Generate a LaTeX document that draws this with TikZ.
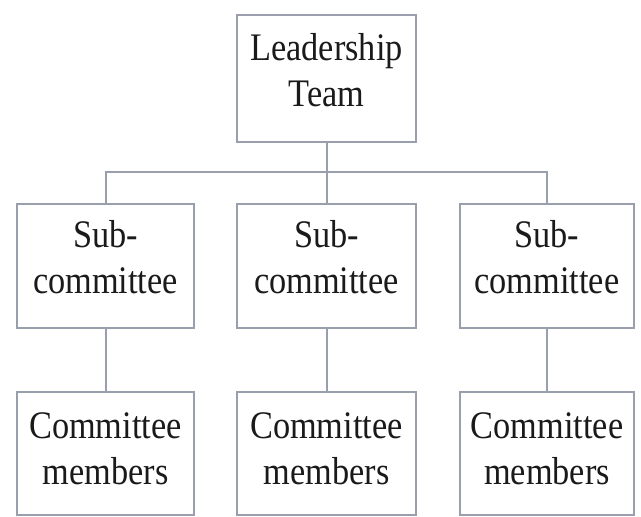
\documentclass[tikz,border=0pt]{standalone}
\usepackage{fontspec}
\setmainfont{Liberation Serif}[FakeStretch=0.88]
\definecolor{linec}{HTML}{9A9FAE}
\definecolor{txtc}{HTML}{1A1A1A}
\begin{document}
\begin{tikzpicture}[x=1pt,y=-1pt,
  box/.style={draw=linec, line width=2pt, inner sep=0pt, fill=white},
  lbl/.style={align=center, font=\fontsize{39}{46}\selectfont, text=txtc, inner sep=0pt},
  conn/.style={draw=linec, line width=2pt}]
\useasboundingbox (0,0) rectangle (641,517);
\fill[white] (0,0) rectangle (641,517);
% boxes
\node[box, minimum width=179pt, minimum height=127pt] (lead) at (326.5,78.5) {};
\node[box, minimum width=177pt, minimum height=124pt] (s1) at (105.5,266) {};
\node[box, minimum width=179pt, minimum height=124pt] (s2) at (326.5,266) {};
\node[box, minimum width=174pt, minimum height=124pt] (s3) at (547,266) {};
\node[box, minimum width=177pt, minimum height=123pt] (c1) at (105.5,453.5) {};
\node[box, minimum width=179pt, minimum height=123pt] (c2) at (326.5,453.5) {};
\node[box, minimum width=174pt, minimum height=123pt] (c3) at (547,453.5) {};
% labels
\node[lbl] (tlead) at ([yshift=8pt]lead.center) {Leadership\\Team};
\node[lbl] (ts1) at ([yshift=9pt]s1.center) {Sub-\\committee};
\node[lbl] (ts2) at ([yshift=9pt]s2.center) {Sub-\\committee};
\node[lbl] (ts3) at ([yshift=9pt]s3.center) {Sub-\\committee};
\node[lbl] (tc1) at ([yshift=5pt]c1.center) {Committee\\members};
\node[lbl] (tc2) at ([yshift=5pt]c2.center) {Committee\\members};
\node[lbl] (tc3) at ([yshift=5pt]c3.center) {Committee\\members};
% connectors
\coordinate (bus) at (0,172);
\draw[conn] (lead.south) -- (s2.north);
\draw[conn] (s1.north) -- (s1.north |- bus) -- (s3.north |- bus) -- (s3.north);
\draw[conn] (s1.south) -- (c1.north);
\draw[conn] (s2.south) -- (c2.north);
\draw[conn] (s3.south) -- (c3.north);
\end{tikzpicture}
\end{document}
